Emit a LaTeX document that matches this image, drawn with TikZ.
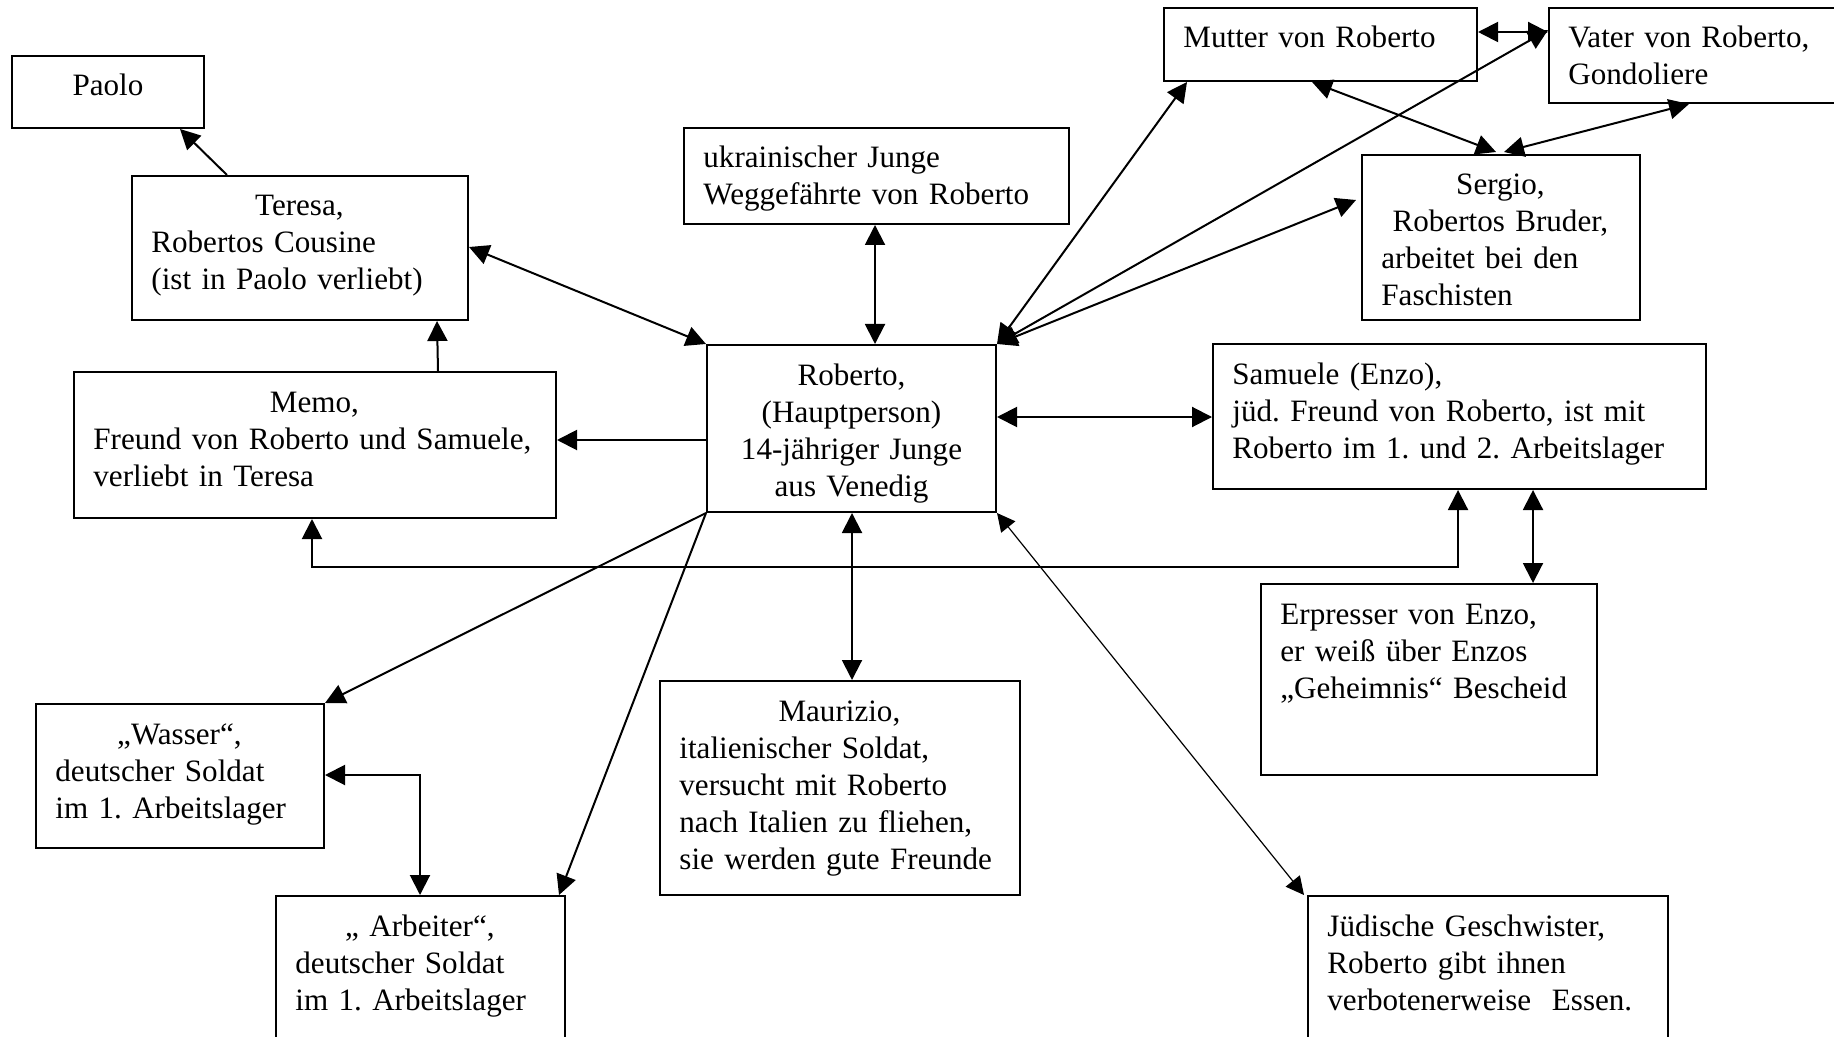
\documentclass[tikz,border=0pt]{standalone}
\usepackage{fontspec}
\setmainfont{Liberation Serif}
\usetikzlibrary{arrows.meta,calc}
\newcommand\pbx[5]{\node[pbox, minimum width=#4*0.5pt, minimum height=#5*0.5pt] (#1) at (#2,#3) {};}
\newcommand\ptx[4]{\node[#2, text width=#3*0.5pt-10pt] (#1t) at ($(#1.north west)+(20,41)$) {#4};}
\newcommand\cl[1]{\makebox[\dimexpr\linewidth-10pt\relax][c]{#1}}
\begin{document}
\begin{tikzpicture}[x=0.5pt,y=-0.5pt,
  pbox/.style={draw, line width=1pt, inner sep=0pt, anchor=north west},
  txt/.style={inner sep=0pt, anchor=base west, align=left, font=\fontsize{15.55pt}{18.5pt}\selectfont\frenchspacing},
  ctxt/.style={txt, align=center},
  link/.style={line width=1pt, -{Triangle[length=10pt,width=10pt]}},
  dlink/.style={line width=1pt, {Triangle[length=10pt,width=10pt]}-{Triangle[length=10pt,width=10pt]}},
  thinlink/.style={line width=0.6pt, {Triangle[length=9pt,width=9pt]}-{Triangle[length=9pt,width=9pt]}},
]
\useasboundingbox (0,0) rectangle (1834,1037);
\fill[white] (0,0) rectangle (1834,1037);
\clip (0,0) rectangle (1834,1037);

% boxes
\pbx{paolo}{11}{55}{192}{72}
\pbx{teresa}{131}{175}{336}{144}
\pbx{memo}{73}{371}{482}{146}
\pbx{ukr}{683}{127}{385}{96}
\pbx{mutter}{1163}{7}{313}{73}
\pbx{vater}{1548}{7}{330}{95}
\pbx{sergio}{1361}{154}{278}{165}
\pbx{roberto}{706}{344}{289}{167}
\pbx{samuele}{1212}{343}{493}{145}
\pbx{erpresser}{1260}{583}{336}{191}
\pbx{maurizio}{659}{680}{360}{214}
\pbx{juedisch}{1307}{895}{360}{180}
\pbx{wasser}{35}{703}{288}{144}
\pbx{arbeiter}{275}{895}{289}{180}

% texts
\node[ctxt, anchor=base, text width=150pt] (paolot) at ($(paolo.north)+(0,41)$) {Paolo};
\node[ctxt, anchor=base, text width=140pt] (robertot) at ($(roberto.north)+(0,41)$) {Roberto,\\(Hauptperson)\\14-jähriger Junge\\aus Venedig};
\ptx{teresa}{txt}{336}{\cl{Teresa,}\\Robertos Cousine\\(ist in Paolo verliebt)}
\ptx{memo}{txt}{482}{\cl{Memo,}\\Freund von Roberto und Samuele,\\verliebt in Teresa}
\ptx{ukr}{txt}{385}{ukrainischer Junge\\Weggefährte von Roberto}
\ptx{mutter}{txt}{313}{Mutter von Roberto}
\ptx{vater}{txt}{300}{Vater von Roberto,\\Gondoliere}
\ptx{sergio}{txt}{278}{\cl{Sergio,}\\\cl{Robertos Bruder,}\\arbeitet bei den\\Faschisten}
\ptx{samuele}{txt}{493}{Samuele (Enzo),\\jüd. Freund von Roberto, ist mit\\Roberto im 1. und 2. Arbeitslager}
\ptx{erpresser}{txt}{336}{Erpresser von Enzo,\\er weiß über Enzos\\„Geheimnis“ Bescheid}
\ptx{maurizio}{txt}{360}{\cl{Maurizio,}\\italienischer Soldat,\\versucht mit Roberto\\nach Italien zu fliehen,\\sie werden gute Freunde}
\ptx{juedisch}{txt}{360}{Jüdische Geschwister,\\Roberto gibt ihnen\\verbotenerweise\ \ Essen.}
\ptx{wasser}{txt}{288}{\cl{„Wasser“,}\\deutscher Soldat\\im 1. Arbeitslager}
\ptx{arbeiter}{txt}{289}{\cl{„\ Arbeiter“,}\\deutscher Soldat\\im 1. Arbeitslager}

% connectors
\draw[link] ($(teresa.north west)+(96,0)$) -- ($(paolo.south west)+(169,0)$);
\draw[link] ($(memo.north west)+(365,0)$) -- ($(teresa.south west)+(306,0)$);
\draw[dlink] ($(teresa.north east)+(0,72)$) -- (roberto.north west);
\draw[link] ($(roberto.north west)+(0,96)$) -- ($(memo.north east)+(0,69)$);
\draw[dlink] ($(ukr.south west)+(192,0)$) -- ($(roberto.north west)+(169,0)$);
\draw[dlink] (roberto.north east) -- ($(mutter.south west)+(24,0)$);
\draw[dlink] (roberto.north east) -- ($(vater.north west)+(0,23)$);
\draw[dlink] (roberto.north east) -- ($(sergio.north west)+(-5,46)$);
\draw[dlink] ($(mutter.north east)+(0,25)$) -- ($(vater.north west)+(0,25)$);
\draw[dlink] ($(mutter.south west)+(149,0)$) -- ($(sergio.north west)+(135,-2)$);
\draw[dlink] ($(vater.south west)+(141,0)$) -- ($(sergio.north west)+(143,-2)$);
\draw[dlink] ($(roberto.north east)+(0,73)$) -- ($(samuele.north west)+(0,74)$);
\draw[dlink] ($(samuele.south west)+(246,0)$) -- ++(0,77) -| ($(memo.south west)+(239,0)$);
\draw[dlink] ($(samuele.south west)+(321,0)$) -- ($(erpresser.north west)+(273,0)$);
\draw[dlink] ($(roberto.south west)+(146,0)$) -- ($(maurizio.north west)+(193,0)$);
\draw[thinlink] (roberto.south east) -- ($(juedisch.north west)+(-3,0)$);
\draw[link] (roberto.south west) -- (wasser.north east);
\draw[link] (roberto.south west) -- ($(arbeiter.north east)+(-7,0)$);
\draw[dlink] ($(wasser.north east)+(0,72)$) -| ($(arbeiter.north west)+(145,0)$);
\end{tikzpicture}
\end{document}
